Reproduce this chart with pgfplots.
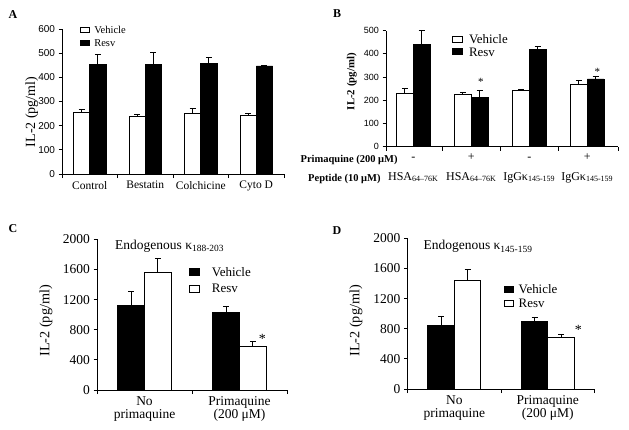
\documentclass[border=0pt]{standalone}
\usepackage{pgfplots}
\pgfplotsset{compat=1.18}
\usepackage{fontspec}
\setmainfont{Liberation Serif}
\newfontfamily\arial{Liberation Sans}
\newcommand\fs[2]{\fontsize{#1pt}{#2pt}\selectfont}
\pgfplotsset{
  panel/.style={
    scale only axis, clip=false,
    axis x line*=bottom, axis y line*=left,
    axis line style={line width=0.9pt,-},
    tick align=outside, major tick length=3.5pt, minor tick length=4pt,
    every tick/.append style={line width=0.9pt, black},
    major x tick style={draw=none},
    ybar=0pt, ymin=0,
    /pgf/number format/assume math mode=true,
    /pgf/number format/1000 sep={},
    error bars/y dir=plus, error bars/y explicit,
    error bars/error bar style={line width=0.9pt,black},
    error bars/error mark options={line width=0.9pt,black,mark size=3pt,rotate=90},
    legend style={draw=none, fill=none, inner sep=0pt, outer sep=0pt,
      anchor=north west, cells={anchor=west}},
    legend cell align=left,
  },
  wbar/.style={fill=white, draw=black, line width=0.9pt},
  bbar/.style={fill=black, draw=black, line width=0.9pt},
  lgA/.style={legend image code/.code={\draw[##1,line width=0.8pt] (0pt,-1.5pt) rectangle (9pt,3.5pt);}},
  lgB/.style={legend image code/.code={\draw[##1,line width=0.8pt] (0pt,-1.5pt) rectangle (10pt,4.5pt);}},
  lgC/.style={legend image code/.code={\draw[##1,line width=0.8pt] (0pt,-2.2pt) rectangle (10pt,4.8pt);}},
  lgD/.style={legend image code/.code={\draw[##1,line width=0.8pt] (0pt,-1.8pt) rectangle (8.5pt,4.5pt);}},
}
\begin{document}
\begin{tikzpicture}[x=1pt,y=1pt]
\useasboundingbox (0,0) rectangle (629,429);
% panel letters
\node[font=\bfseries\fs{12}{14}] at (13,414.5) {A};
\node[font=\bfseries\fs{12}{14}] at (337,415) {B};
\node[font=\bfseries\fs{12}{14}] at (13,200) {C};
\node[font=\bfseries\fs{12}{14}] at (337,198) {D};

% ---------------- A
\begin{axis}[panel, at={(62pt,255pt)}, anchor=south west, width=222pt, height=145pt,
  xmin=-0.5, xmax=3.5, ymax=600, ytick={0,100,...,600},
  xtick={0,1,2,3}, xticklabels={Control,Bestatin,Colchicine,Cyto D},
  minor xtick={-0.5,0.5,1.5,2.5,3.5},
  bar width=16.3pt,
  yticklabel style={font=\arial\fs{10}{12}},
  xticklabel style={font=\fs{11.5}{13}},
  ylabel={IL-2 (pg/ml)},
  ylabel style={font=\fs{14}{16}, at={(axis description cs:-0.136,0.428)}, anchor=center},
  legend style={at={(axis description cs:0.081,1.017)}, font=\fs{10.5}{12},
    nodes={inner sep=0pt, text height=7pt, text depth=2pt}, row sep=4.3pt, column sep=4.5pt},
]
\addplot[wbar, lgA] coordinates {(0,253) +- (0,14) (1,237) +- (0,10) (2,249) +- (0,22) (3,243) +- (0,9)};
\addplot[bbar, lgA] coordinates {(0,455) +- (0,41) (1,455) +- (0,48) (2,459) +- (0,24) (3,447) +- (0,3)};
\legend{Vehicle,Resv}
\end{axis}

% ---------------- B
\begin{axis}[panel, at={(386pt,282.3pt)}, anchor=south west, width=232pt, height=116pt,
  xmin=-0.47, xmax=3.53, ymax=500, ytick={0,100,...,500},
  xtick={0,1,2,3},
  xticklabels={{\vphantom{+}-\\HSA\textsubscript{64–76K}},{+\\HSA\textsubscript{64–76K}},{\vphantom{+}-\\IgGκ\textsubscript{145-159}},{+\\IgGκ\textsubscript{145-159}}},
  minor xtick={-0.47,0.5,1.5,2.5,3.53},
  bar width=16.7pt,
  yticklabel style={font=\arial\fs{9}{11}},
  xticklabel style={font=\fs{12}{20}, align=center, inner sep=1pt, yshift=-2pt},
  ylabel={IL-2 (pg/ml)},
  ylabel style={font=\bfseries\fs{10.8}{12}, at={(axis description cs:-0.147,0.56)}, anchor=center},
  legend style={at={(axis description cs:0.283,0.965)}, font=\fs{12.9}{14},
    nodes={inner sep=0pt, text height=9pt, text depth=3pt}, row sep=0.4pt, column sep=6.6pt},
]
\addplot[wbar, lgB] coordinates {(0,230) +- (0,22) (1,227) +- (0,5) (2,243) +- (0,3) (3,269) +- (0,17)};
\addplot[bbar, lgB] coordinates {(0,441) +- (0,58) (1,213) +- (0,31) (2,420) +- (0,10) (3,292) +- (0,11)};
\legend{Vehicle,Resv}
\node[font=\fs{11}{11}, xshift=9.5pt] at (axis cs:1,280) {*};
\node[font=\fs{11}{11}, xshift=10pt] at (axis cs:3,323) {*};
\node[anchor=east, font=\bfseries\fs{10.5}{12}] at (axis description cs:0.065,-0.115) {Primaquine (200 μM)};
\node[anchor=east, font=\bfseries\fs{10.5}{12}] at (axis description cs:-0.008,-0.28) {Peptide (10 μM)};
\end{axis}

% ---------------- C
\begin{axis}[panel, at={(97pt,39pt)}, anchor=south west, width=190pt, height=150.7pt,
  xmin=-0.5, xmax=1.5, ymax=2000, ytick={0,400,...,2000},
  xtick={0,1}, xticklabels={{No\\primaquine},{Primaquine\\(200 μM)}},
  minor xtick={-0.5,0.5,1.5},
  bar width=26.7pt,
  yticklabel style={font=\fs{13.5}{15}},
  xticklabel style={font=\fs{13.5}{12.8}, align=center},
  ylabel={IL-2 (pg/ml)},
  ylabel style={font=\fs{14.2}{16}, at={(axis description cs:-0.269,0.459)}, anchor=center},
  legend style={at={(axis description cs:0.486,0.815)}, font=\fs{13}{14},
    nodes={inner sep=0pt, text height=9pt, text depth=3pt}, row sep=4.6pt, column sep=11.7pt},
]
\addplot[bbar, lgC] coordinates {(0,1119) +- (0,190) (1,1031) +- (0,75)};
\addplot[wbar, lgC] coordinates {(0,1557) +- (0,191) (1,575) +- (0,66)};
\legend{Vehicle,Resv}
\node[font=\fs{14}{14}, xshift=22.8pt] at (axis cs:1,678) {*};
\node[anchor=west, font=\fs{13.5}{14}] at (axis description cs:0.077,0.956) {Endogenous κ\textsubscript{188-203}};
\end{axis}

% ---------------- D
\begin{axis}[panel, at={(407.5pt,40pt)}, anchor=south west, width=187pt, height=150.7pt,
  xmin=-0.5, xmax=1.5, ymax=2000, ytick={0,400,...,2000},
  xtick={0,1}, xticklabels={{No\\primaquine},{Primaquine\\(200 μM)}},
  minor xtick={-0.5,0.5,1.5},
  bar width=26.5pt,
  yticklabel style={font=\fs{13.5}{15}},
  xticklabel style={font=\fs{13.5}{12.8}, align=center},
  ylabel={IL-2 (pg/ml)},
  ylabel style={font=\fs{14.2}{16}, at={(axis description cs:-0.276,0.452)}, anchor=center},
  legend style={at={(axis description cs:0.518,0.693)}, font=\fs{12.9}{14},
    nodes={inner sep=0pt, text height=9pt, text depth=3pt}, row sep=2.3pt, column sep=5pt},
]
\addplot[bbar, lgD] coordinates {(0,840) +- (0,120) (1,899) +- (0,57)};
\addplot[wbar, lgD] coordinates {(0,1447) +- (0,142) (1,690) +- (0,36)};
\legend{Vehicle,Resv}
\node[font=\fs{14}{14}, xshift=30.5pt] at (axis cs:1,790) {*};
\node[anchor=west, font=\fs{13.5}{14}] at (axis description cs:0.067,0.944) {Endogenous κ\textsubscript{145-159}};
\end{axis}
\end{tikzpicture}
\end{document}
